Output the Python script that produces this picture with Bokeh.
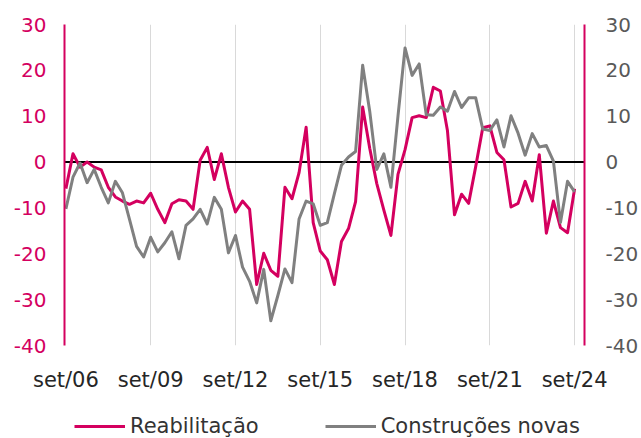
from bokeh.plotting import figure
from bokeh.layouts import column
from bokeh.models import LinearAxis, FixedTicker, Range1d, Span, Legend, LegendItem
from bokeh.embed import file_html
from bokeh.resources import INLINE

# Quarterly balances, set/06 .. set/24
reabilitacao = [
    -5.8, 1.8, -1.1, 0.0, -1.1, -1.7, -5.5, -7.6, -8.5, -9.2,
    -8.5, -8.9, -6.8, -10.3, -13.2, -9.1, -8.2, -8.5, -10.3, 0.4,
    3.2, -3.8, 1.8, -5.5, -10.9, -8.5, -10.3, -26.7, -19.9, -23.6,
    -24.9, -5.5, -8.0, -2.3, 7.6, -13.2, -19.4, -21.3, -26.7, -17.3,
    -14.5, -8.6, 12.0, 3.0, -4.7, -10.5, -16.0, -2.7, 2.7, 9.7,
    10.1, 9.7, 16.3, 15.5, 6.9, -11.5, -7.0, -9.0, -1.0, 7.5,
    7.9, 2.1, 0.5, -9.8, -9.0, -4.2, -8.5, 1.6, -15.5, -8.5,
    -14.3, -15.4, -5.8,
]
construcoes_novas = [
    -10.2, -3.3, -0.2, -4.5, -1.6, -5.5, -8.9, -4.2, -6.7, -12.5,
    -18.4, -20.7, -16.4, -19.6, -17.6, -15.2, -21.1, -13.8, -12.4, -10.3,
    -13.5, -7.7, -10.3, -19.8, -16.0, -22.9, -26.0, -30.7, -23.4, -34.6,
    -29.1, -23.3, -26.3, -12.4, -8.5, -9.1, -13.8, -13.2, -6.9, -0.7,
    1.1, 2.3, 21.1, 11.1, -1.6, 1.8, -5.5, 10.0, 24.9, 18.9,
    21.4, 10.3, 10.2, 12.0, 11.1, 15.4, 11.9, 14.0, 14.0, 7.2,
    6.9, 9.2, 3.3, 10.1, 6.3, 1.5, 6.2, 3.3, 3.6, 0.2,
    -13.2, -4.2, -6.5,
]
series_names = ["Reabilitação", "Construções novas"]
tick_labels = ["set/06", "set/09", "set/12", "set/15", "set/18", "set/21", "set/24"]
tick_step = 12  # quarters between labels
y_ticks = [-40, -30, -20, -10, 0, 10, 20, 30]
y_tick_labels = ["-40", "-30", "-20", "-10", "0", "10", "20", "30"]

PINK = "#D4005F"
GREY = "#808080"
FONT = "DejaVu Sans"

x = list(range(len(reabilitacao)))
tick_pos = [i * tick_step for i in range(len(tick_labels))]
y_overrides = {t: lab for t, lab in zip(y_ticks, y_tick_labels)}
X_RANGE = (-0.2, 73.4)

p = figure(width=641, height=400, output_backend="svg", toolbar_location=None,
           x_range=Range1d(*X_RANGE), y_range=Range1d(-40, 30),
           min_border_left=64, min_border_right=57, min_border_top=24,
           min_border_bottom=55)
p.outline_line_color = None
p.background_fill_color = "white"
p.border_fill_color = "white"

# grid
p.ygrid.grid_line_color = None
p.xgrid.ticker = FixedTicker(ticks=tick_pos[1:])
p.xgrid.grid_line_color = "#D9D9D9"
p.xgrid.grid_line_width = 1


def style_axis(ax, color, standoff, size="20px"):
    ax.major_tick_line_color = None
    ax.minor_tick_line_color = None
    ax.major_tick_out = 0
    ax.major_tick_in = 0
    ax.minor_tick_out = 0
    ax.minor_tick_in = 0
    ax.major_label_standoff = standoff
    ax.major_label_text_font = FONT
    ax.major_label_text_font_size = size
    ax.major_label_text_color = color


# x axis
xa = p.xaxis[0]
xa.ticker = FixedTicker(ticks=tick_pos)
xa.major_label_overrides = {t: lab for t, lab in zip(tick_pos, tick_labels)}
xa.axis_line_color = None
style_axis(xa, "#262626", 22, "21px")

# left y axis
ya = p.yaxis[0]
ya.ticker = FixedTicker(ticks=y_ticks)
ya.major_label_overrides = y_overrides
ya.axis_line_color = PINK
ya.axis_line_width = 2
style_axis(ya, PINK, 18)

# right y axis
ra = LinearAxis(ticker=FixedTicker(ticks=y_ticks))
ra.major_label_overrides = y_overrides
ra.axis_line_color = PINK
ra.axis_line_width = 2
style_axis(ra, "#595959", 21)
p.add_layout(ra, "right")

# zero line
p.add_layout(Span(location=0, dimension="width", line_color="black",
                  line_width=2, level="underlay"))

p.line(x, reabilitacao, line_color=PINK, line_width=3, line_join="round")
p.line(x, construcoes_novas, line_color=GREY, line_width=3, line_join="round")

# legend strip below the chart (series drawn outside its visible y range,
# only their legend glyphs show)
lg = figure(width=641, height=38, output_backend="svg", toolbar_location=None,
            x_axis_location=None, y_axis_location=None, min_border=0,
            x_range=Range1d(*X_RANGE), y_range=Range1d(100, 101))
lg.outline_line_color = None
lg.grid.grid_line_color = None
lg.background_fill_color = "white"
lg.border_fill_color = "white"
k1 = lg.line(x, reabilitacao, line_color=PINK, line_width=3)
k2 = lg.line(x, construcoes_novas, line_color=GREY, line_width=3)

legend = Legend(items=[LegendItem(label=series_names[0], renderers=[k1]),
                       LegendItem(label=series_names[1], renderers=[k2])],
                location=(10, 0), orientation="horizontal",
                glyph_width=51, glyph_height=20, label_standoff=5, spacing=66,
                padding=0, margin=0, border_line_color=None,
                background_fill_alpha=0,
                label_text_font=FONT, label_text_font_size="21px",
                label_text_color="#333333")
lg.add_layout(legend)

layout = column(p, lg, spacing=0)
open("out.html", "w").write(file_html(layout, INLINE))
